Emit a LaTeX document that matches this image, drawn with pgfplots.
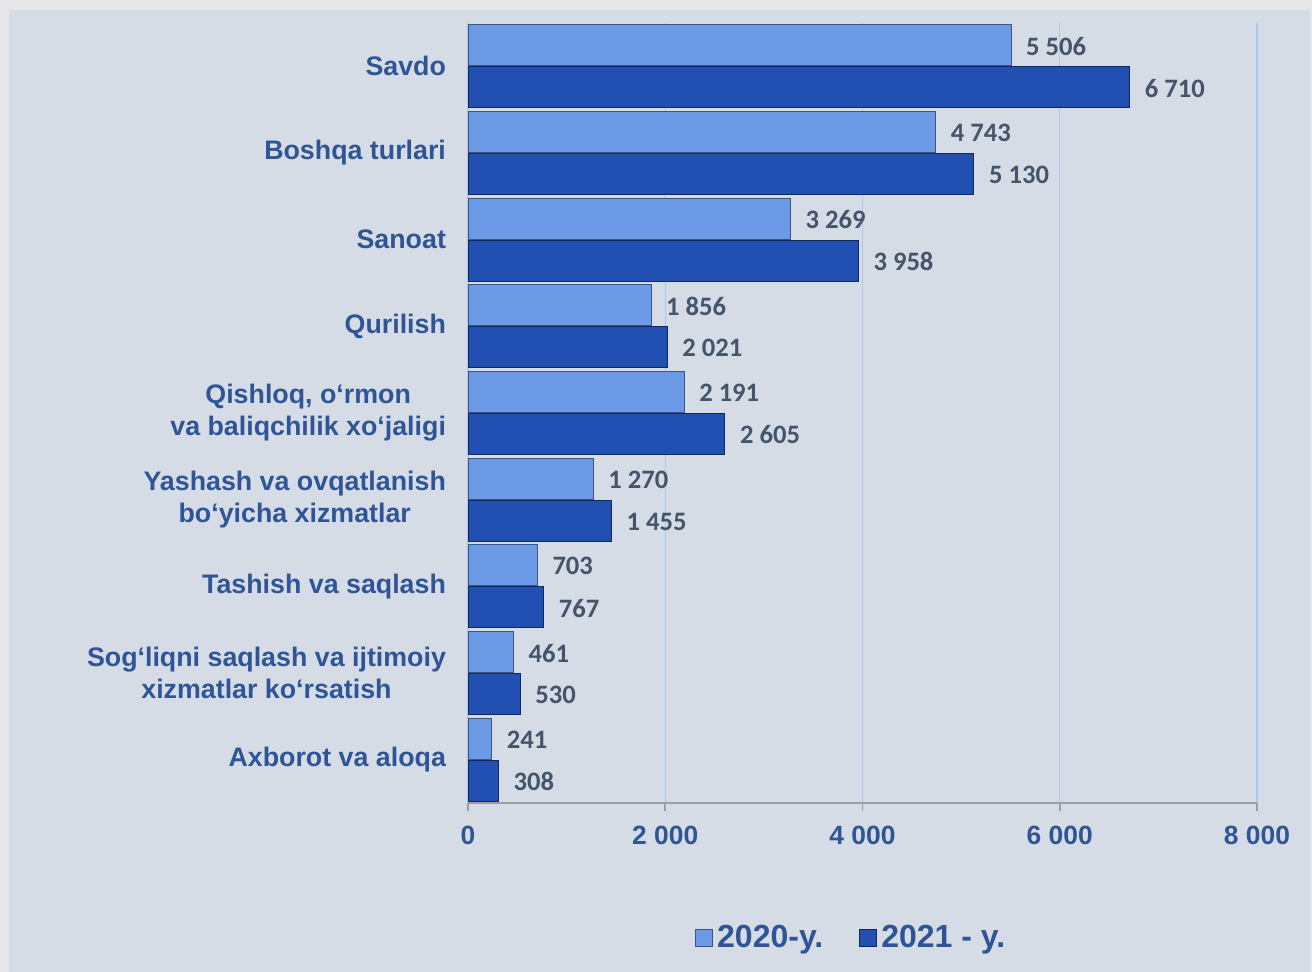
\documentclass[border=0pt]{standalone}
\usepackage{fontspec}
\setmainfont{Liberation Sans}
\newfontfamily\valfont{Carlito}
\usepackage{pgfplots}
\pgfplotsset{compat=1.18}
\definecolor{outerbg}{HTML}{E7E7E9}
\definecolor{panel}{HTML}{D6DCE5}
\definecolor{lbl}{HTML}{2F5597}
\definecolor{val}{HTML}{44546A}
\definecolor{barA}{HTML}{6C9AE6}
\definecolor{barB}{HTML}{2250B2}
\definecolor{gridc}{HTML}{A9C9F2}
\begin{document}
\begin{tikzpicture}
\useasboundingbox (0,0) rectangle (656pt,486pt);
\fill[outerbg] (0,0) rectangle (656pt,486pt);
\fill[panel] (4.5pt,0) rectangle (655pt,481pt);
\begin{axis}[
  at={(234pt,84.5pt)}, anchor=south west,
  scale only axis, width=394.5pt, height=390pt,
  xbar, bar width=0.473,
  xmin=0, xmax=8000, ymin=-0.5, ymax=8.5,
  axis lines*=left,
  y axis line style={draw=none},
  x axis line style={draw=black!38, line width=1pt},
  xtick={0,2000,4000,6000,8000},
  xticklabels={0,2 000,4 000,6 000,8 000},
  tick align=outside,
  major tick length=4pt,
  xtick style={draw=black!38, line width=0.8pt},
  ytick style={draw=none},
  xmajorgrids, grid style={draw=gridc, line width=0.6pt},
  ytick={0,...,8},
  yticklabels={
    Axborot va aloqa,
    {Sog‘liqni saqlash va ijtimoiy\\xizmatlar ko‘rsatish},
    Tashish va saqlash,
    {Yashash va ovqatlanish\\bo‘yicha xizmatlar},
    {Qishloq, o‘rmon\\va baliqchilik xo‘jaligi},
    Qurilish, Sanoat, Boshqa turlari, Savdo},
  yticklabel style={align=center, font=\fontsize{13.4}{16}\selectfont\bfseries, text=lbl, xshift=-3.5pt},
  xticklabel style={font=\fontsize{13.2}{16}\selectfont\bfseries, text=lbl, yshift=-4pt},
  point meta=explicit symbolic,
  nodes near coords,
  nodes near coords style={font=\valfont\fontsize{13.3}{16}\selectfont\bfseries, text=val, anchor=west, xshift=4pt, yshift=-0.5pt},
  legend columns=2,
  legend style={at={(0.487,-0.173)}, anchor=center, draw=none, fill=none,
    font=\fontsize{16}{18}\selectfont\bfseries, text=lbl,
    /tikz/every even column/.append style={column sep=16pt}},
  legend image code/.code={\fill[#1] (0pt,-4.25pt) rectangle (8.5pt,4.25pt);},
]
\addplot[bar shift=0.242, draw=barA!55!black, line width=0.5pt, fill=barA]
coordinates {
  (5506,8) [5 506]
  (4743,7) [4 743]
  (3269,6) [3 269]
  (1856,5) [1 856]
  (2191,4) [2 191]
  (1270,3) [1 270]
  (703,2) [703]
  (461,1) [461]
  (241,0) [241]
};
\addlegendentry{2020-y.}
\addplot[bar shift=-0.242, draw=barB!50!black, line width=0.5pt, fill=barB]
coordinates {
  (6710,8) [6 710]
  (5130,7) [5 130]
  (3958,6) [3 958]
  (2021,5) [2 021]
  (2605,4) [2 605]
  (1455,3) [1 455]
  (767,2) [767]
  (530,1) [530]
  (308,0) [308]
};
\addlegendentry{2021 - y.}
\end{axis}
\end{tikzpicture}
\end{document}
